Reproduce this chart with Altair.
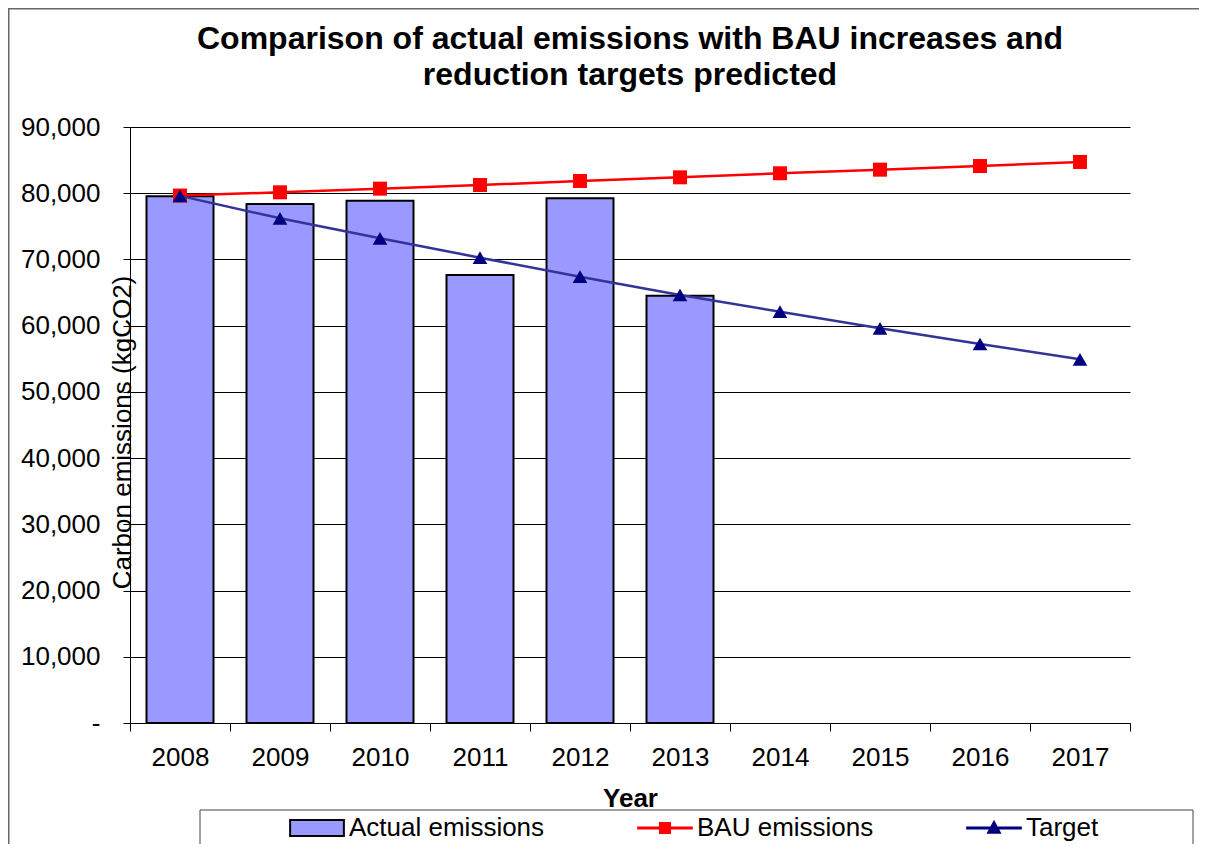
import altair as alt
import pandas as pd

# ---------------- data ----------------
years = ["2008", "2009", "2010", "2011", "2012", "2013", "2014", "2015", "2016", "2017"]
actual_emissions = [79540, 78380, 78870, 67650, 79230, 64530]
bau_emissions = [79650, 80140, 80690, 81240, 81850, 82400, 83010, 83560, 84110, 84720]
target_emissions = [79600, 76210, 73190, 70270, 67400, 64630, 62110, 59600, 57230, 54920]
series_names = ["Actual emissions", "BAU emissions", "Target"]
y_tick_values = [0, 10000, 20000, 30000, 40000, 50000, 60000, 70000, 80000, 90000]
title_lines = ["Comparison of actual emissions with BAU increases and", "reduction targets predicted"]

FONT = "Liberation Sans"
BAR_FILL = "#9999FF"
BAU_COLOR = "#FF0000"
TARGET_LINE = "#333399"
TARGET_MARK = "#000080"

df_actual = pd.DataFrame({"year": years[:len(actual_emissions)], "value": actual_emissions})
df_bau = pd.DataFrame({"year": years, "value": bau_emissions})
df_target = pd.DataFrame({"year": years, "value": target_emissions})
df_legend = pd.DataFrame({"series": series_names})
df_deco = pd.DataFrame({"k": [0]})

x_enc = alt.X(
    "year:N",
    sort=years,
    scale=alt.Scale(domain=years, paddingInner=0, paddingOuter=0),
    title="Year",
    axis=alt.Axis(
        labelAngle=0, tickBand="extent", grid=False,
        tickSize=8, tickColor="black", domainColor="black", domainWidth=1,
        labelFont=FONT, labelFontSize=26, labelColor="black", labelPadding=13,
        titleFont=FONT, titleFontSize=26, titleFontWeight="bold", titleColor="black",
        titleBaseline="alphabetic", titleY=83,
    ),
)
y_enc = alt.Y(
    "value:Q",
    scale=alt.Scale(domain=[0, 90000], nice=False),
    title="Carbon emissions (kgCO2)",
    axis=alt.Axis(
        values=y_tick_values,
        labelExpr="datum.value == 0 ? '-' : format(datum.value, ',')",
        grid=True, gridColor="black", gridWidth=1, gridOpacity=1,
        tickSize=7, tickColor="black", domainColor="black", domainWidth=1,
        labelFont=FONT, labelFontSize=26, labelColor="black", labelPadding=23,
        titleFont=FONT, titleFontSize=26, titleFontWeight="normal", titleColor="black",
        titleAngle=270, titleX=0, titleY=305, titleAlign="center", titleBaseline="alphabetic",
    ),
)

frame = alt.Chart(df_deco).mark_rect(fillOpacity=0, stroke="#666666", strokeWidth=1.5).encode(
    x=alt.value(-121.25), x2=alt.value(1110), y=alt.value(-118.25), y2=alt.value(760)
)
legend_box = alt.Chart(df_deco).mark_rect(fillOpacity=0, stroke="#444444", strokeWidth=1).encode(
    x=alt.value(70), x2=alt.value(1063), y=alt.value(683), y2=alt.value(760)
)

bars = alt.Chart(df_actual).mark_bar(
    fill=BAR_FILL, stroke="black", strokeWidth=2, width=alt.RelativeBandSize(0.67)
).encode(x=x_enc, y=y_enc)

bau_line = alt.Chart(df_bau).mark_line(color=BAU_COLOR, strokeWidth=2.5).encode(x=x_enc, y=y_enc)
bau_pts = alt.Chart(df_bau).mark_point(shape="square", filled=True, size=196, color=BAU_COLOR, opacity=1).encode(x=x_enc, y=y_enc)

tgt_line = alt.Chart(df_target).mark_line(color=TARGET_LINE, strokeWidth=2.5).encode(x=x_enc, y=y_enc)
tgt_pts = alt.Chart(df_target).mark_point(shape="triangle-up", filled=True, size=216, color=TARGET_MARK, opacity=1).encode(x=x_enc, y=y_enc)

legend_cfg = alt.Legend(
    orient="none", legendX=158, legendY=672, direction="horizontal",
    labelFont=FONT, labelFontSize=26, labelColor="black", labelLimit=400, labelOffset=3,
    columnPadding=89, symbolSize=3136, symbolStrokeWidth=2, padding=0,
)
legend_layer = alt.Chart(df_legend).mark_point(filled=True, opacity=1).encode(
    color=alt.Color("series:N", title=None, legend=legend_cfg,
                    scale=alt.Scale(domain=series_names, range=[BAR_FILL, BAU_COLOR, TARGET_MARK])),
    stroke=alt.Stroke("series:N", title=None, legend=legend_cfg,
                      scale=alt.Scale(domain=series_names, range=["black", BAU_COLOR, TARGET_MARK])),
    shape=alt.Shape("series:N", title=None, legend=legend_cfg,
                    scale=alt.Scale(domain=series_names, range=[
                        "M-0.96,-0.29H0.96V0.29H-0.96Z",
                        "M-0.96,-0.02H0.96V0.02H-0.96Z M-0.18,-0.18H0.18V0.18H-0.18Z",
                        "M-0.96,-0.02H0.96V0.02H-0.96Z M-0.21,0.17L0,-0.22L0.21,0.17Z",
                    ])),
).transform_filter("false")

chart = alt.layer(
    frame, legend_box, bars, bau_line, bau_pts, tgt_line, tgt_pts, legend_layer
).properties(
    width=1000,
    height=596,
    autosize=alt.AutoSizeParams(type="none"),
    padding={"left": 122, "top": 119, "right": 69, "bottom": 121},
    background="white",
    title=alt.Title(
        title_lines, font=FONT, fontSize=32, fontWeight="bold", color="black",
        anchor="middle", frame="group", lineHeight=36.7, offset=-84.5,
    ),
).configure_view(stroke="transparent")

chart.save("out.html", embed_options={"renderer": "svg", "actions": False})
